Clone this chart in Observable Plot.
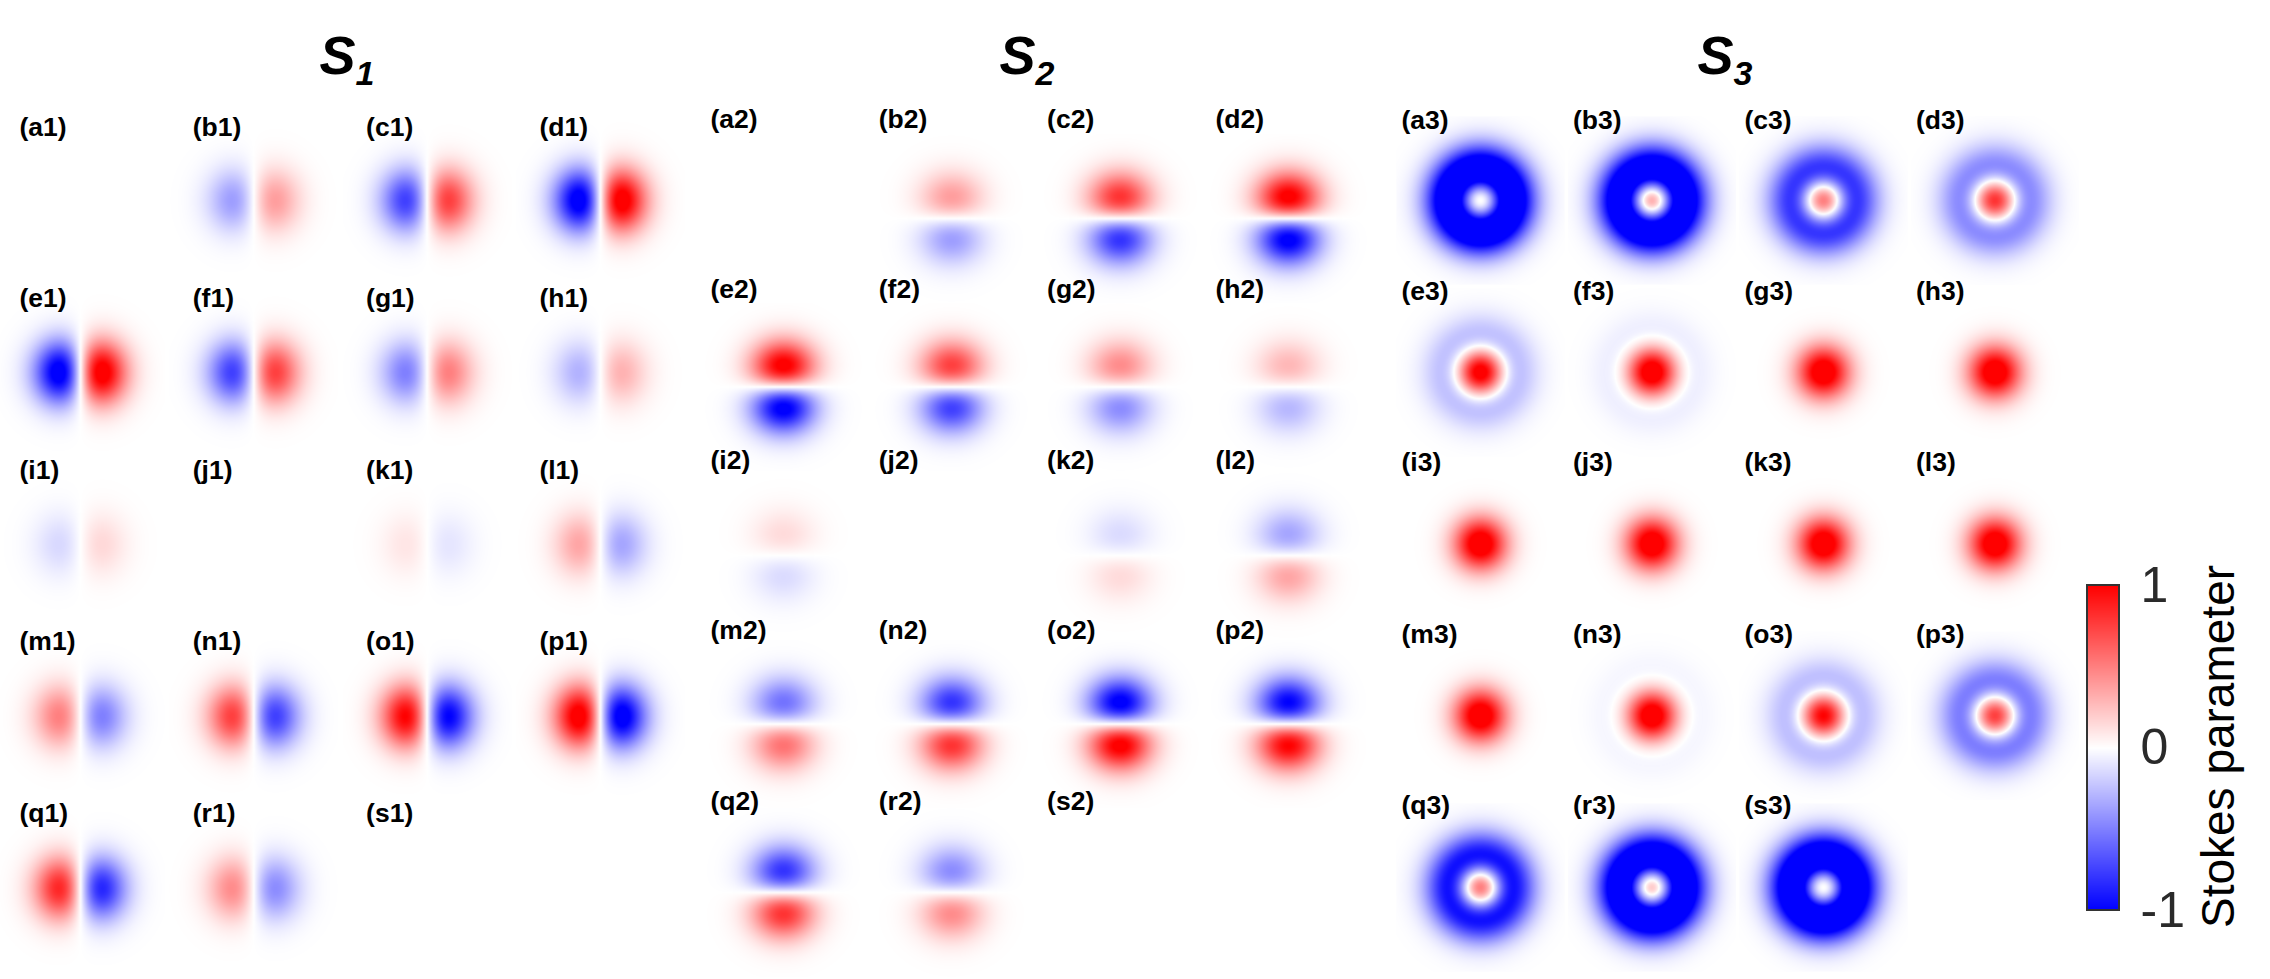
<!DOCTYPE html>
<html>
<head>
<meta charset="utf-8">
<script src="https://cdn.jsdelivr.net/npm/d3@7"></script>
<script src="https://cdn.jsdelivr.net/npm/@observablehq/plot@0.6"></script>
<style>
html, body { margin: 0; padding: 0; background: #fff; overflow: hidden; }
</style>
</head>
<body>
<div id="chart"></div>
<script>
// ---------------- data ----------------
const panelLetters = ["a","b","c","d","e","f","g","h","i","j","k","l","m","n","o","p","q","r","s"];
const groupNames = ["S", "S", "S"];
const groupSubs = ["1", "2", "3"];
// S1: horizontal dipole amplitude (positive = red lobe on the right)
const s1Amp = [0, 0.38, 0.75, 1.1, 1.1, 0.75, 0.5, 0.3, 0.15, 0, -0.1, -0.35, -0.5, -0.75, -1.0, -1.1, -0.85, -0.45, 0];
// S2: vertical dipole amplitude (positive = red lobe on top)
const s2Amp = [0, 0.38, 0.8, 1.05, 1.05, 0.75, 0.45, 0.28, 0.14, 0, -0.14, -0.35, -0.55, -0.8, -1.05, -1.0, -0.8, -0.45, 0];
// S3: centre (positive) and ring (negative) amplitudes
const s3Centre = [0, 0.3, 0.5, 0.8, 1.1, 1.2, 1.2, 1.2, 1.2, 1.2, 1.2, 1.2, 1.2, 1.2, 1.0, 0.75, 0.5, 0.2, 0];
const s3Ring   = [1.45, 1.45, 0.9, 0.6, 0.4, 0.17, 0, 0, 0, 0, 0, 0, 0, 0.12, 0.4, 0.65, 1.05, 1.45, 1.45];
const cbTicks = [1, 0, -1];
const cbTitle = "Stokes parameter";

// ---------------- layout ----------------
const W = 2270, H = 979;
const FONT = "Liberation Sans, Arial, Helvetica, sans-serif";
const layout = [
  {cx0: 80,   dcx: 173.3, cy0: 200, dcy: 172,   lx: -61, ly0: 127, dly: 171.5, tx: 355},
  {cx0: 783,  dcx: 168.3, cy0: 218, dcy: 168.5, lx: -73, ly0: 119, dly: 170.5, tx: 1035},
  {cx0: 1480, dcx: 171.5, cy0: 200, dcy: 171.75,lx: -79, ly0: 120, dly: 171.25,tx: 1733}
];
const half = 84;

// field shapes
const w = 31, lobePeak = w / Math.SQRT2;
const lobe = (u, v) => (u / lobePeak) * Math.exp(0.5 - (u * u + v * v) / (w * w));
const wc = 26, wr = 31;
const ringField = (u, v, c, R) => {
  const r2 = u * u + v * v, t = r2 / (wr * wr);
  return c * Math.exp(-r2 / (wc * wc)) - R * t * Math.exp(1 - t);
};
const clamp = v => Math.max(-1, Math.min(1, v));

const panels = [];
for (let g = 0; g < 3; g++) {
  panelLetters.forEach((L, i) => {
    const col = i % 4, row = Math.floor(i / 4);
    const lay = layout[g];
    panels.push({
      g, i, label: `(${L}${g + 1})`,
      cx: lay.cx0 + col * lay.dcx,
      cy: lay.cy0 + row * lay.dcy,
      lxp: lay.cx0 + col * lay.dcx + lay.lx,
      lyp: lay.ly0 + row * lay.dly
    });
  });
}

const fieldFor = p => {
  if (p.g === 0) { const a = s1Amp[p.i]; return (x, y) => clamp(a * lobe(x - p.cx, y - p.cy)); }
  if (p.g === 1) { const a = s2Amp[p.i]; return (x, y) => clamp(a * lobe(p.cy - y, x - p.cx)); }
  const c = s3Centre[p.i], R = s3Ring[p.i];
  return (x, y) => clamp(ringField(x - p.cx, y - p.cy, c, R));
};

const rasters = panels.map(p => Plot.raster({
  x1: p.cx - half, x2: p.cx + half, y1: p.cy - half, y2: p.cy + half,
  fill: fieldFor(p), pixelSize: 1
}));

// colour bar
const cb = {x1: 2087, x2: 2119, y1: 585, y2: 910};
const cbY = v => cb.y1 + (1 - v) / 2 * (cb.y2 - cb.y1);
const cbRaster = Plot.raster({
  x1: cb.x1, x2: cb.x2, y1: cb.y1, y2: cb.y2, pixelSize: 1,
  fill: (x, y) => clamp(1 - 2 * (y - cb.y1) / (cb.y2 - cb.y1))
});

const titles = layout.map((lay, g) => ({x: lay.tx, name: groupNames[g], sub: groupSubs[g]}));

const chart = Plot.plot({
  width: W, height: H, margin: 0,
  style: {fontFamily: FONT, background: "#fff"},
  x: {domain: [0, W], range: [0, W], axis: null},
  y: {domain: [0, H], range: [0, H], axis: null},
  color: {type: "linear", domain: [-1, 0, 1], range: ["#0000ff", "#ffffff", "#ff0000"], interpolate: "rgb", clamp: true},
  marks: [
    ...rasters,
    cbRaster,
    Plot.rect([cb], {x1: "x1", x2: "x2", y1: "y1", y2: "y2", fill: "none", stroke: "#333", strokeWidth: 2}),
    Plot.text(panels, {x: "lxp", y: "lyp", text: "label", textAnchor: "start", lineAnchor: "middle",
      fontSize: 26.5, fontWeight: "bold", fill: "#000", fontFamily: FONT}),
    Plot.text(titles, {x: "x", y: 73, text: "name", textAnchor: "end", lineAnchor: "bottom",
      fontSize: 54, fontWeight: "bold", fontStyle: "italic", fill: "#000", fontFamily: FONT}),
    Plot.text(titles, {x: "x", y: 84, text: "sub", textAnchor: "start", lineAnchor: "bottom",
      fontSize: 34, fontWeight: "bold", fontStyle: "italic", fill: "#000", fontFamily: FONT}),
    Plot.text(cbTicks, {x: 2140, y: d => cbY(d), text: d => String(d), textAnchor: "start", lineAnchor: "middle",
      fontSize: 50, fill: "#2a2a2a", fontFamily: FONT}),
    Plot.text([cbTitle], {x: 2233, y: 746, text: d => d, rotate: -90, textAnchor: "middle", lineAnchor: "bottom",
      fontSize: 46, fill: "#000", fontFamily: FONT})
  ]
});
document.getElementById("chart").appendChild(chart);
</script>
</body>
</html>
